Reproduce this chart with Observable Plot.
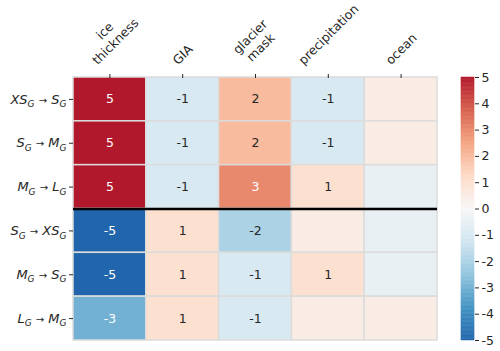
<!DOCTYPE html>
<html><head><meta charset="utf-8">
<script src="https://cdn.jsdelivr.net/npm/d3@7"></script>
<script src="https://cdn.jsdelivr.net/npm/@observablehq/plot@0.6"></script>
<style>
body{margin:0;background:#fff;}
#wrap{position:relative;width:500px;height:351px;font-family:"DejaVu Sans";}
#wrap svg{position:absolute;top:0;overflow:visible;}
</style></head><body><div id="wrap"></div>
<script>
// ---- data ----
const columns = ["ice\nthickness", "GIA", "glacier\nmask", "precipitation", "ocean"];
const rows = ["XS_G → S_G", "S_G → M_G", "M_G → L_G", "S_G → XS_G", "M_G → S_G", "L_G → M_G"];
const iceThickness  = [5, 5, 5, -5, -5, -3];
const gia           = [-1, -1, -1, 1, 1, 1];
const glacierMask   = [2, 2, 3, -2, -1, -1];
const precipitation = [-1, -1, 1, 0.5, 1, 0.5];
const ocean         = [0.5, 0.5, -0.5, -0.5, -0.5, 0.5];
const groupSplit = 3;
const colorTicks = [-5, -4, -3, -2, -1, 0, 1, 2, 3, 4, 5];
const rdbuColors = ["#2166ac", "#4393c3", "#92c5de", "#d1e5f0", "#f7f7f7", "#fddbc7", "#f4a582", "#d6604d", "#b2182b"];

const series = [iceThickness, gia, glacierMask, precipitation, ocean];
const cells = rows.flatMap((r, i) => series.map((s, j) => ({row: i, col: j, value: s[i]})));
const colorOpts = {type: "linear", domain: [-5, 5], interpolate: d3.piecewise(d3.interpolateRgb, rdbuColors)};
const ink = "#262626";

const main = Plot.plot({
  width: 500, height: 351,
  marginLeft: 73, marginRight: 63, marginTop: 77, marginBottom: 11,
  style: {fontFamily: "DejaVu Sans", fontSize: "12px", color: ink, background: "transparent"},
  x: {domain: [0, 5], axis: null, label: null},
  y: {domain: [0, 6], reverse: true, axis: null, label: null},
  color: colorOpts,
  marks: [
    Plot.rect(cells, {x1: "col", x2: d => d.col + 1, y1: "row", y2: d => d.row + 1, fill: "value", stroke: "#dcdcdc", strokeWidth: 1.5}),
    Plot.text(cells.filter(d => Number.isInteger(d.value)), {
      x: d => d.col + 0.5, y: d => d.row + 0.5, text: d => String(d.value),
      fill: d => Math.abs(d.value) >= 3 ? "white" : ink, fontSize: 12.5
    }),
    Plot.ruleY([groupSplit], {stroke: "black", strokeWidth: 2.5}),
    Plot.axisX(columns.map((c, i) => i + 0.5), {anchor: "top", label: null, tickSize: 4, tickFormat: () => "", stroke: ink}),
    Plot.text(columns, {x: (d, i) => i + 0.5, frameAnchor: "top", rotate: -45, textAnchor: "middle", lineAnchor: "middle", lineHeight: 1.2, fill: ink, fontSize: 12.5}),
    Plot.axisY(rows.map((r, i) => i + 0.5), {anchor: "left", label: null, tickSize: 4, tickPadding: 3, tickFormat: v => rows[Math.round(v - 0.5)], stroke: ink, fill: ink, fontSize: 13})
  ]
});

const step = 0.05;
const steps = d3.range(-5, 5 - 1e-9, step);
const bar = Plot.plot({
  width: 39, height: 351,
  marginLeft: 0, marginRight: 26, marginTop: 77, marginBottom: 11,
  style: {fontFamily: "DejaVu Sans", fontSize: "12.5px", color: ink, background: "transparent"},
  x: {domain: [0, 1], axis: null, label: null},
  y: {domain: [-5, 5], axis: null, label: null},
  color: colorOpts,
  marks: [
    Plot.rect(steps, {x1: 0, x2: 1, y1: d => d, y2: d => d + step, fill: d => d + step / 2, stroke: d => d + step / 2, strokeWidth: 0.5}),
    Plot.axisY(colorTicks, {anchor: "right", label: null, tickSize: 4, tickPadding: 3, tickFormat: d => String(d), stroke: ink, fill: ink})
  ]
});

const wrap = document.getElementById("wrap");
main.style.left = "0px";
bar.style.left = "461px";
wrap.appendChild(main);
wrap.appendChild(bar);

// rotated column labels: bounding box centred on the tick, bottom just above the tick
const xs = main.scale("x");
const labelBottom = 67;
const flat = columns.map(c => c.replace(/\n/g, ""));
d3.select(main).selectAll("text").each(function() {
  const i = flat.indexOf(this.textContent);
  if (i < 0) return;
  this.removeAttribute("x"); this.removeAttribute("y");
  this.setAttribute("transform", "rotate(-45)");
  const bb = this.getBBox();
  const k = Math.SQRT1_2;
  const cx = bb.x + bb.width / 2, cy = bb.y + bb.height / 2;
  const rcx = k * (cx + cy), rcy = k * (cy - cx);
  const H = (bb.width + bb.height) * k;
  const tx = xs.apply(i + 0.5) - rcx;
  const ty = labelBottom - H / 2 - rcy;
  this.setAttribute("transform", `translate(${tx},${ty}) rotate(-45)`);
});

// row labels with subscripts
d3.select(main).selectAll('g[aria-label="y-axis tick label"] text').each(function() {
  const s = this.textContent;
  const t = d3.select(this).style("white-space", "pre");
  t.text(null);
  const parts = s.split(/(_G| → )/).filter(p => p !== "");
  let shifted = false;
  for (const p of parts) {
    if (p === "_G") {
      t.append("tspan").text("G").attr("font-style", "italic").attr("font-size", "9px").attr("dy", 3.5);
      shifted = true;
      continue;
    }
    const dy = shifted ? -3.5 : null;
    shifted = false;
    if (p === " → ") {
      t.append("tspan").text(" ").attr("dy", dy);
      t.append("tspan").text("→").attr("font-size", "10px");
      t.append("tspan").text(" ");
    } else {
      t.append("tspan").text(p).attr("font-style", "italic").attr("dy", dy);
    }
  }
});
</script>
</body></html>
